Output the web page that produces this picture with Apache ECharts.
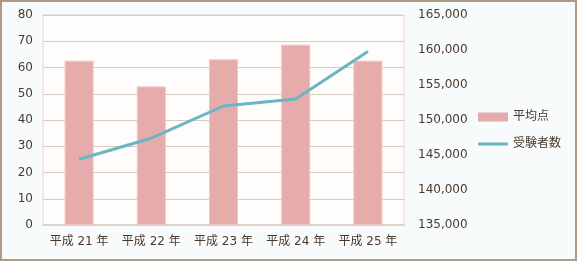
<!DOCTYPE html>
<html>
<head>
<meta charset="utf-8">
<script src="https://cdn.jsdelivr.net/npm/echarts@6/dist/echarts.min.js"></script>
<style>
  html, body { margin: 0; padding: 0; background: #f8fbfc; }
  #chart { width: 577px; height: 261px; box-sizing: border-box; border: 2px solid #ae9a86; background: #f8fbfc; }
</style>
</head>
<body>
<div id="chart"></div>
<script>
// Exam years, average score and number of examinees
const years = ['平成 21 年', '平成 22 年', '平成 23 年', '平成 24 年', '平成 25 年'];
const averageScore = [62.6, 52.8, 63.1, 68.7, 62.6];
const examinees = [144400, 147400, 152000, 153000, 159800];

const textColor = '#4a3a2c';
const font = '"DejaVu Sans", "Noto Sans CJK JP", sans-serif';
// legend glyph for the line series: a 3px bar centred in a 30x9 box
const lineIcon = 'path://M0,0H30V0.001H0Z M0,3H30V6H0Z M0,8.999H30V9H0Z';

const chart = echarts.init(document.getElementById('chart'), null, { renderer: 'canvas' });
chart.setOption({
  animation: false,
  textStyle: { fontFamily: font, color: textColor },
  grid: {
    left: 41, right: 171, top: 13, bottom: 34,
    show: true, backgroundColor: '#fffdfc', borderColor: '#e3dad3', borderWidth: 1
  },
  legend: {
    orient: 'vertical', left: 471, top: 104, itemWidth: 30, itemHeight: 9, itemGap: 15,
    textStyle: { fontSize: 12, color: textColor, fontFamily: font },
    data: [
      { name: '平均点', icon: 'rect', itemStyle: { borderWidth: 0 } },
      { name: '受験者数', icon: lineIcon, itemStyle: { color: '#6ab6c4', borderWidth: 0 } }
    ]
  },
  xAxis: {
    type: 'category', data: years,
    axisLine: { lineStyle: { color: '#ddd3cb', width: 2 } },
    axisTick: { show: false },
    axisLabel: { fontSize: 12, color: textColor, margin: 11, interval: 0 }
  },
  yAxis: [
    {
      type: 'value', min: 0, max: 80, interval: 10,
      axisLine: { show: false }, axisTick: { show: false },
      axisLabel: { fontSize: 12, color: textColor, margin: 10 },
      splitLine: { lineStyle: { color: '#d9cbc0', width: 1 } }
    },
    {
      type: 'value', min: 135000, max: 165000, interval: 5000,
      axisLine: { show: false }, axisTick: { show: false },
      axisLabel: {
        fontSize: 12, color: textColor, margin: 14,
        formatter: v => v.toLocaleString('en-US')
      },
      splitLine: { show: false }
    }
  ],
  series: [
    {
      name: '平均点', type: 'bar', data: averageScore, yAxisIndex: 0,
      barWidth: 29,
      itemStyle: { color: '#e6acac', borderColor: '#efc4c4', borderWidth: 1 }
    },
    {
      name: '受験者数', type: 'line', data: examinees, yAxisIndex: 1,
      symbol: 'none', smooth: false,
      lineStyle: { color: '#6ab6c4', width: 3 },
      itemStyle: { color: '#6ab6c4' }
    }
  ]
});
</script>
</body>
</html>
